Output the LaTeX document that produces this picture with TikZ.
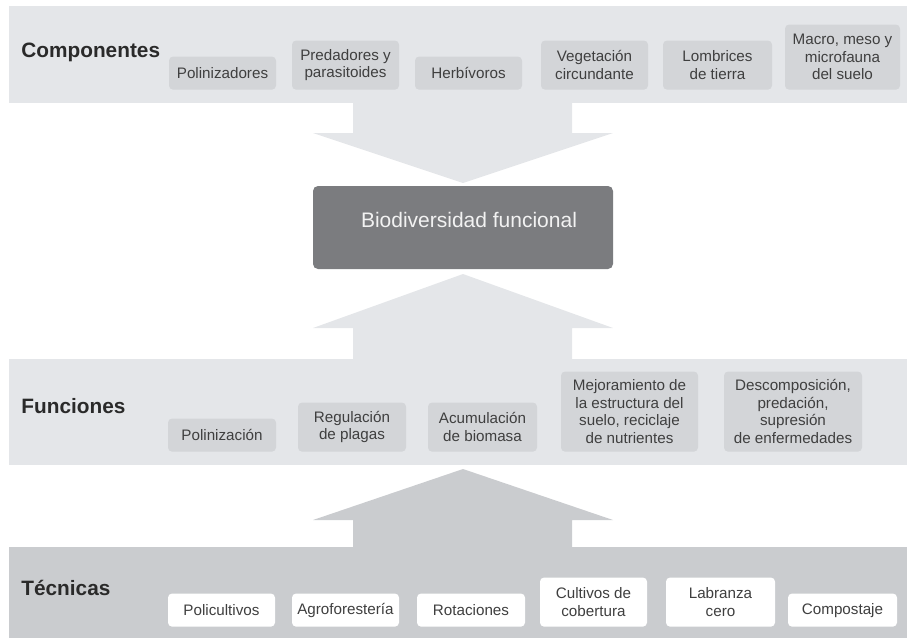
\documentclass[tikz,border=0pt]{standalone}
\usepackage{fontspec}
\setmainfont{Liberation Sans}
\definecolor{bandlight}{HTML}{E4E6E9}
\definecolor{itemgrey}{HTML}{D3D5D8}
\definecolor{banddark}{HTML}{CACCCF}
\definecolor{biogrey}{HTML}{7B7C7F}
\definecolor{ink}{HTML}{2A2A2A}
\tikzset{
  item/.style={fill=itemgrey, rounded corners=2pt, anchor=south, align=center,
    inner sep=0pt, text=ink!90, font=\fontsize{7.6}{8.8}\selectfont},
  itemwhite/.style={item, fill=white},
  hone/.style={minimum height=16.5pt},
  htwo/.style={minimum height=24.5pt},
  hthree/.style={minimum height=32.5pt},
  hfour/.style={minimum height=40pt},
  heading/.style={anchor=west, inner sep=0pt, text=ink,
    font=\fontsize{10.4}{12}\selectfont\bfseries},
}
\begin{document}
\begin{tikzpicture}[x=0.5pt,y=-0.5pt]
  \useasboundingbox (0,0) rectangle (907,638);
  % bands
  \fill[bandlight] (9,6) rectangle (907,103);
  \fill[bandlight] (9,359) rectangle (907,465);
  \fill[banddark] (9,547) rectangle (907,638);
  % block arrows
  \fill[bandlight] (353,100) -- (353,133) -- (313,133) -- (463,183) -- (613,133)
    -- (572,133) -- (572,100) -- cycle;
  \fill[bandlight] (353,362) -- (353,328) -- (313,328) -- (463,274) -- (613,328)
    -- (572,328) -- (572,362) -- cycle;
  \fill[banddark] (353,550) -- (353,520) -- (313,520) -- (463,469) -- (613,520)
    -- (572,520) -- (572,550) -- cycle;

  % Componentes
  \node[heading] (comp) at (21,52) {Componentes};
  \node[item, hone, minimum width=53.5pt] (poliz) at (222.5,90) {Polinizadores};
  \node[item, htwo, minimum width=53.5pt] (pred) at (345.5,90) {Predadores y\\parasitoides};
  \node[item, hone, minimum width=53.5pt] (herb) at (468.5,90) {Herbívoros};
  \node[item, htwo, minimum width=53.5pt] (veg) at (594.5,90) {Vegetación\\circundante};
  \node[item, htwo, minimum width=54.5pt] (lomb) at (717.5,90) {Lombrices\\de tierra};
  \node[item, hthree, minimum width=57.5pt] (fauna) at (842.5,90) {Macro, meso y\\microfauna\\del suelo};

  % centro
  \node[fill=biogrey, rounded corners=2.5pt, minimum width=150pt,
    minimum height=41.5pt, inner sep=0pt] (bio) at (463,227.5) {};
  \node[text=white!95!black, font=\fontsize{10.5}{12}\selectfont, inner sep=0pt]
    (biotxt) at (469,220) {Biodiversidad funcional};

  % Funciones
  \node[heading] (func) at (21,406) {Funciones};
  \node[item, hone, minimum width=54pt] (polin) at (222,452) {Polinización};
  \node[item, htwo, minimum width=54pt] (plag) at (352,452) {Regulación\\de plagas};
  \node[item, htwo, minimum width=54.5pt] (bioma) at (482.5,452) {Acumulación\\de biomasa};
  \node[item, hfour, minimum width=68.5pt] (suelo) at (629.5,452) {Mejoramiento de\\la estructura del\\suelo, reciclaje\\de nutrientes};
  \node[item, hfour, minimum width=69pt] (desc) at (793,452) {Descomposición,\\predación,\\supresión\\de enfermedades};

  % Tecnicas
  \node[heading] (tec) at (21,588) {Técnicas};
  \node[itemwhite, hone, minimum width=53.5pt] (polic) at (221.5,627) {Policultivos};
  \node[itemwhite, hone, minimum width=53.5pt] (agro) at (345.5,627) {Agroforestería};
  \node[itemwhite, hone, minimum width=54pt] (rot) at (471,627) {Rotaciones};
  \node[itemwhite, htwo, minimum width=53.5pt] (cober) at (593.5,627) {Cultivos de\\cobertura};
  \node[itemwhite, htwo, minimum width=54.5pt] (labr) at (720.5,627) {Labranza\\cero};
  \node[itemwhite, hone, minimum width=54.5pt] (compost) at (842.5,627) {Compostaje};
\end{tikzpicture}
\end{document}
